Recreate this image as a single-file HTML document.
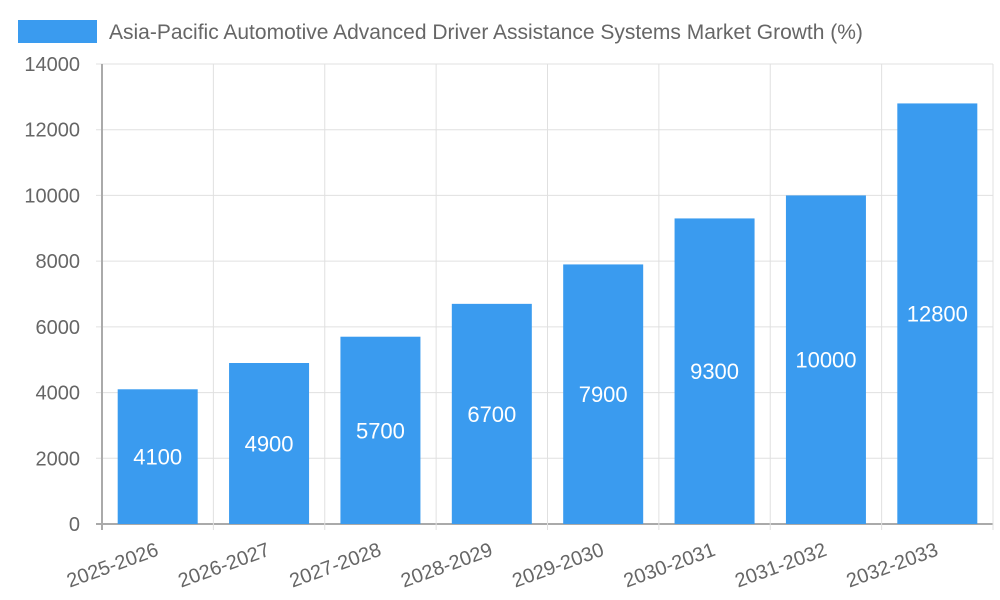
<!DOCTYPE html>
<html><head><meta charset="utf-8"><style>
body{margin:0;background:#fff;}
svg{display:block;font-family:"Liberation Sans",sans-serif;}
</style></head><body>
<svg id="chart" width="1000" height="600">
<rect x="18" y="20" width="79" height="23" fill="#3a9bef"/>
<text x="109" y="39" font-size="21" fill="#666">Asia-Pacific Automotive Advanced Driver Assistance Systems Market Growth (%)</text>
<g id="grid"></g><g id="bars"></g><g id="labels"></g>
</svg>
<script>
const categories=["2025-2026","2026-2027","2027-2028","2028-2029","2029-2030","2030-2031","2031-2032","2032-2033"];
const values=[4100,4900,5700,6700,7900,9300,10000,12800];
const yTicks=[0,2000,4000,6000,8000,10000,12000,14000];
const NS="http://www.w3.org/2000/svg";
const x0=102,x1=993,y0=524,y1=64,yMax=14000;
const bw=(x1-x0)/categories.length;
const yS=v=>y0-(v/yMax)*(y0-y1);
const xC=i=>x0+bw*(i+0.5);
function mk(t,a,p){const e=document.createElementNS(NS,t);for(const k in a)e.setAttribute(k,a[k]);document.getElementById(p).appendChild(e);return e;}
yTicks.forEach(v=>{
 const l=mk('line',{x1:96,x2:x1,y1:yS(v),y2:yS(v),stroke:v===0?'#aaa':'#e0e0e0','stroke-width':v===0?2:1},'grid');
 
 
 const t=mk('text',{x:80,y:yS(v)+7,'text-anchor':'end','font-size':20,fill:'#666'},'labels');
 t.textContent=v;
 
 
});
for(let i=0;i<=categories.length;i++){
 const x=x0+bw*i;
 const l=mk('line',{x1:x,x2:x,y1:y1,y2:530,stroke:i===0?'#aaa':'#e0e0e0','stroke-width':i===0?2:1},'grid');
 
 
}
categories.forEach((c,i)=>{
 const cx=xC(i),v=values[i];
 const r=mk('rect',{x:cx-40,y:yS(v),width:80,height:y0-yS(v),fill:'#3a9bef'},'bars');
 
 
 const t=mk('text',{x:cx,y:(yS(v)+y0)/2+8,'text-anchor':'middle','font-size':22,fill:'#fff'},'labels');
 t.textContent=v;
 
 
 const xl=mk('text',{x:cx+2,y:555,'text-anchor':'end','font-size':20,fill:'#666',transform:`rotate(-20 ${cx+2} 555)`},'labels');
 xl.textContent=c;
 
 
});
</script>
</body></html>
